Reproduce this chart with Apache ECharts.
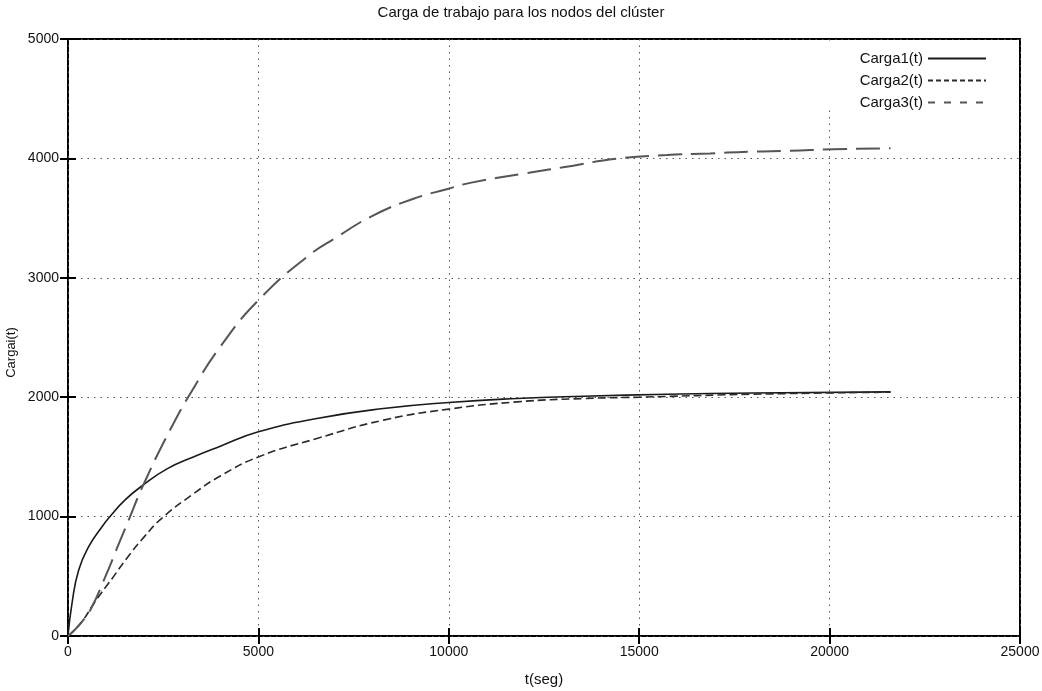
<!DOCTYPE html>
<html>
<head>
<meta charset="utf-8">
<title>Carga de trabajo</title>
<script src="https://cdn.jsdelivr.net/npm/echarts@6/dist/echarts.min.js"></script>
<style>
    html, body { margin: 0; padding: 0; background: #fff; }
    #chart_1 { width: 1042px; height: 691px; }
</style>
</head>
<body>
<div id="chart_1"></div>
<script>
// datos
var t1 = [0, 105, 281, 543, 893, 1103, 1500, 1978, 2600, 3291, 4000, 5000, 6535, 8284, 10000, 11790, 13540, 15730, 18000, 21600];
var carga1 = [0, 274, 553, 748, 915, 1000, 1140, 1265, 1400, 1500, 1590, 1710, 1822, 1905, 1956, 1989, 2008, 2025, 2035, 2045];

var t2 = [0, 140, 368, 718, 1155, 1541, 2000, 2460, 3291, 4000, 5000, 6535, 8284, 10000, 11790, 13540, 15000, 18000, 21600];
var carga2 = [0, 40, 120, 290, 480, 650, 830, 985, 1190, 1340, 1500, 1654, 1808, 1900, 1961, 1989, 2000, 2025, 2042];

var t3 = [0, 140, 368, 587, 981, 1287, 1593, 1978, 2679, 3292, 3994, 5000, 6270, 7060, 8022, 9073, 9992, 10562, 12000, 13000, 14410, 15723, 16860, 17910, 18960, 20098, 21600];
var carga3 = [0, 40, 120, 218, 497, 735, 971, 1265, 1725, 2073, 2421, 2812, 3174, 3341, 3523, 3662, 3746, 3795, 3875, 3925, 3998, 4028, 4042, 4056, 4064, 4076, 4085];

var names = ["Carga1(t)", "Carga2(t)", "Carga3(t)"];

var Chart_1 = echarts.init(document.getElementById('chart_1'));

function pares(t, y){
    var out = [];
    for (var i = 0; i < t.length; i++){
        out.push([t[i], y[i]]);
    }
    return out;
}

function sinComas(v){
    return String(v);
}

var font = "Liberation Sans, Arial, sans-serif";
var dotted = { color: "#555", width: 1, type: [1.5, 5] };
var tick = { inside: true, length: 8, lineStyle: { color: "#000", width: 2 } };

var option = {
    animation: false,
    backgroundColor: "#fff",
    textStyle: { fontFamily: font },
    title: {
        text: "Carga de trabajo para los nodos del clúster",
        left: "center",
        top: 0,
        textStyle: { fontSize: 15, fontWeight: "normal", color: "#111", fontFamily: font }
    },
    legend: {
        orient: "vertical",
        right: 24,
        top: 41,
        padding: [10, 31, 0, 40],
        backgroundColor: "#fff",
        align: "right",
        itemWidth: 58,
        itemHeight: 14,
        itemGap: 7,
        itemStyle: { opacity: 0 },
        textStyle: { fontSize: 15, color: "#111", fontFamily: font },
        data: [
            { name: names[0] },
            { name: names[1], lineStyle: { type: [5, 3] } },
            { name: names[2], lineStyle: { type: [7, 9] } }
        ]
    },
    grid: {
        left: 68,
        right: 22,
        top: 39,
        bottom: 55,
        outerBoundsMode: "none",
        show: true,
        borderColor: "#000",
        borderWidth: 2
    },
    xAxis: [{
        type: "value",
        min: 0,
        max: 25000,
        interval: 5000,
        name: "t(seg)",
        nameLocation: "middle",
        nameGap: 36,
        nameTextStyle: { fontSize: 15, color: "#111" },
        axisLine: { show: false },
        axisTick: tick,
        axisLabel: { fontSize: 14, color: "#111", margin: 9, formatter: sinComas },
        splitLine: { lineStyle: dotted }
    }, {
        type: "value",
        position: "top",
        min: 0,
        max: 25000,
        interval: 5000,
        axisLine: { show: false },
        axisTick: tick,
        axisLabel: { show: false },
        splitLine: { show: false }
    }],
    yAxis: [{
        type: "value",
        min: 0,
        max: 5000,
        interval: 1000,
        name: "Cargai(t)",
        nameLocation: "middle",
        nameGap: 50,
        nameMoveOverlap: false,
        nameTextStyle: { fontSize: 13, color: "#111", padding: [0, 0, 0, -30] },
        axisLine: { show: false },
        axisTick: tick,
        axisLabel: { fontSize: 14, color: "#111", margin: 9, formatter: sinComas },
        splitLine: { lineStyle: dotted }
    }, {
        type: "value",
        position: "right",
        min: 0,
        max: 5000,
        interval: 1000,
        axisLine: { show: false },
        axisTick: tick,
        axisLabel: { show: false },
        splitLine: { show: false }
    }],
    series: [{
        name: names[0],
        type: "line",
        symbol: "none",
        smooth: 0.5,
        lineStyle: { color: "#1a1a1a", width: 1.6, type: "solid" },
        itemStyle: { color: "#1a1a1a" },
        data: pares(t1, carga1)
    }, {
        name: names[1],
        type: "line",
        symbol: "none",
        smooth: 0.5,
        lineStyle: { color: "#2a2a2a", width: 1.6, type: [8, 4] },
        itemStyle: { color: "#2a2a2a" },
        data: pares(t2, carga2)
    }, {
        name: names[2],
        type: "line",
        symbol: "none",
        smooth: 0.5,
        lineStyle: { color: "#555", width: 2, type: [24, 9] },
        itemStyle: { color: "#555" },
        data: pares(t3, carga3)
    }]
};

Chart_1.setOption(option);
</script>
</body>
</html>
